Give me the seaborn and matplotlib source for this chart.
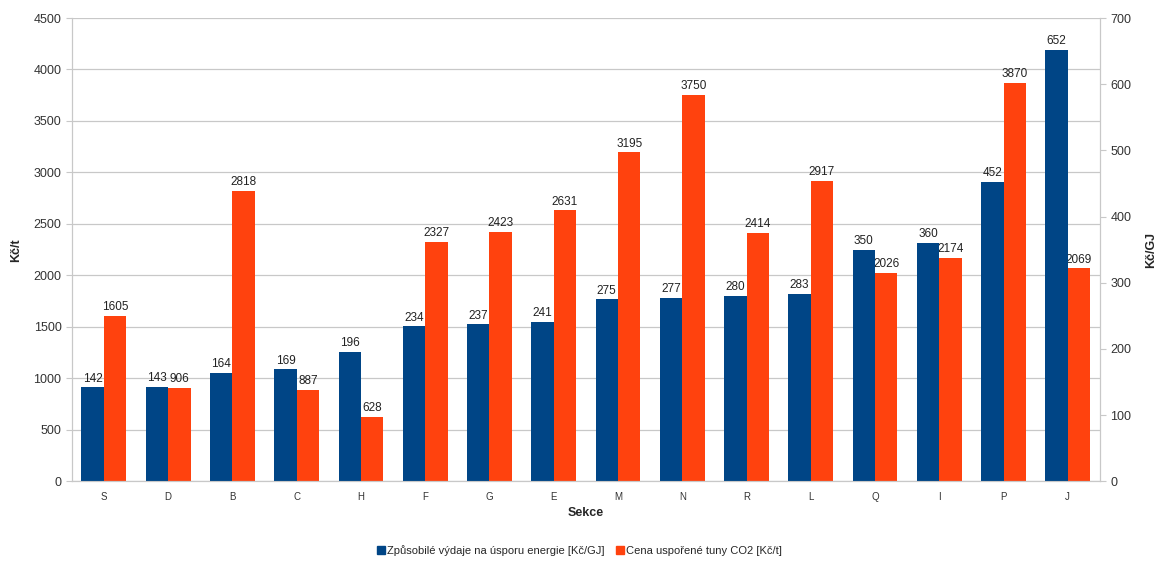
import pandas as pd
import matplotlib
matplotlib.use("Agg")
import matplotlib.pyplot as plt
import seaborn as sns

# Data
sekce = ["S", "D", "B", "C", "H", "F", "G", "E", "M", "N", "R", "L", "Q", "I", "P", "J"]
vydaje_gj = [142, 143, 164, 169, 196, 234, 237, 241, 275, 277, 280, 283, 350, 360, 452, 652]
cena_co2 = [1605, 906, 2818, 887, 628, 2327, 2423, 2631, 3195, 3750, 2414, 2917, 2026, 2174, 3870, 2069]

s1 = "Způsobilé výdaje na úsporu energie [Kč/GJ]"
s2 = "Cena uspořené tuny CO2 [Kč/t]"
colors = {s1: "#004586", s2: "#ff420e"}

df = pd.concat([
    pd.DataFrame({"Sekce": sekce, "serie": s1, "val": vydaje_gj}),
    pd.DataFrame({"Sekce": sekce, "serie": s2, "val": cena_co2}),
])

sns.set_style("white")
plt.rcParams["font.family"] = ["Liberation Sans", "DejaVu Sans"]

fig, ax = plt.subplots(figsize=(11.59, 5.63), dpi=100)
fig.subplots_adjust(left=0.062, right=0.949, top=0.968, bottom=0.145)
ax2 = ax.twinx()

# orange on left axis, blue on right axis, keep dodge slots via hue_order
sns.barplot(data=df[df.serie == s2], x="Sekce", y="val", hue="serie",
            hue_order=[s1, s2], palette=colors, order=sekce,
            width=0.7, dodge=True, ax=ax, legend=False, saturation=1, linewidth=0)
sns.barplot(data=df[df.serie == s1], x="Sekce", y="val", hue="serie",
            hue_order=[s1, s2], palette=colors, order=sekce,
            width=0.7, dodge=True, ax=ax2, legend=False, saturation=1, linewidth=0)

ax.set_ylim(0, 4500)
ax.set_yticks(range(0, 4501, 500))
ax2.set_ylim(0, 700)
ax2.set_yticks(range(0, 701, 100))
ax.set_xlim(-0.5, len(sekce) - 0.5)

ax.yaxis.grid(True, color="#c8c8c8", linewidth=0.9)
ax.set_axisbelow(True)
ax2.patch.set_visible(False)
ax.set_zorder(1)
ax2.set_zorder(2)

for a in (ax, ax2):
    for sp in a.spines.values():
        sp.set_color("#c8c8c8")
    a.spines["top"].set_visible(False)
    a.tick_params(length=4, color="#c8c8c8", labelsize=9, labelcolor="#333333")
ax.tick_params(axis="x", labelsize=7)

for c in ax.containers:
    ax.bar_label(c, fmt="%d", fontsize=8.5, padding=2, color="#222222")
for c in ax2.containers:
    ax2.bar_label(c, fmt="%d", fontsize=8.5, padding=2, color="#222222")

ax.set_xlabel("Sekce", fontsize=9, fontweight="bold")
ax.set_ylabel("Kč/t", fontsize=9, fontweight="bold", labelpad=8)
ax2.set_ylabel("Kč/GJ", fontsize=9, fontweight="bold", labelpad=10)

handles = [plt.Rectangle((0, 0), 1, 1, color=colors[s1]),
           plt.Rectangle((0, 0), 1, 1, color=colors[s2])]
fig.legend(handles, [s1, s2], loc="lower center", ncol=2, frameon=False,
           fontsize=8, handlelength=0.7, handleheight=0.7, handletextpad=0.2,
           columnspacing=1.0, bbox_to_anchor=(0.5, -0.005))

plt.savefig("out.png", dpi=100)
